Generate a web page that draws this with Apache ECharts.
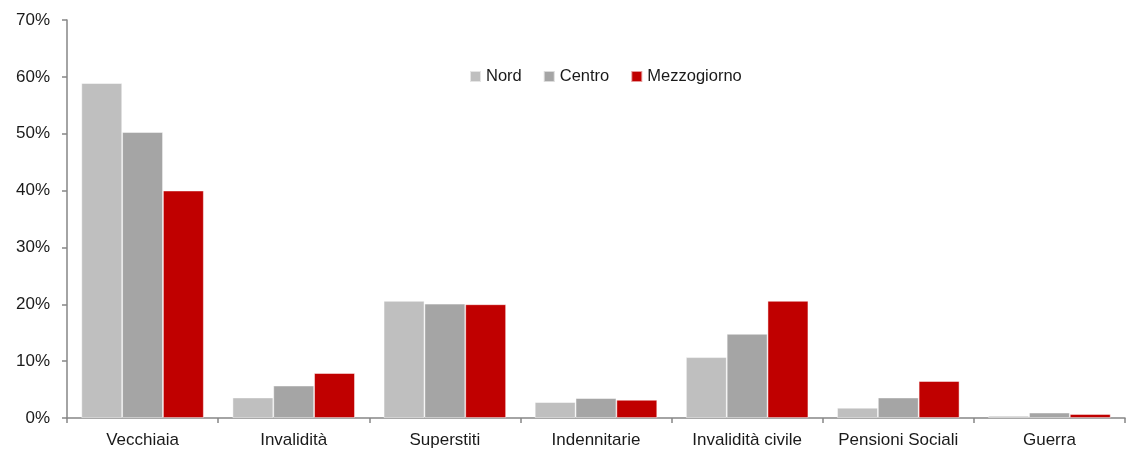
<!DOCTYPE html>
<html><head><meta charset="utf-8">
<script src="https://cdn.jsdelivr.net/npm/echarts@6/dist/echarts.min.js"></script>
<style>html,body{margin:0;padding:0;background:#fff;}#c{width:1136px;height:449px;}</style>
</head><body><div id="c"></div>
<script>
const categories = ['Vecchiaia','Invalidità','Superstiti','Indennitarie','Invalidità civile','Pensioni Sociali','Guerra'];
const nord = [58.9, 3.6, 20.6, 2.8, 10.7, 1.8, 0.4];
const centro = [50.3, 5.7, 20.1, 3.5, 14.8, 3.6, 0.95];
const mezzogiorno = [40.0, 7.9, 20.0, 3.2, 20.6, 6.5, 0.7];
const yTicks = {min: 0, max: 70, interval: 10};

const font = 'Liberation Sans, Arial, sans-serif';
const axisColor = '#868686';
const chart = echarts.init(document.getElementById('c'));
function bar(name, data, color){
  return {name, type:'bar', data, barGap:'0%', barCategoryGap:'19%',
    itemStyle:{color, borderColor:'rgba(255,255,255,0.6)', borderWidth:0.8}};
}
chart.setOption({
  animation:false,
  textStyle:{fontFamily:font},
  grid:{left:67, right:11, top:20, bottom:30, containLabel:false},
  legend:{top:63, left:464, itemWidth:11, itemHeight:11, itemGap:21, itemTextGap:2, icon:'rect',
    textStyle:{fontFamily:font, fontSize:16.5, color:'#1a1a1a'},
    data:['Nord','Centro','Mezzogiorno']},
  xAxis:{type:'category', data:categories,
    axisLine:{lineStyle:{color:axisColor, width:1.5}},
    axisTick:{show:true, length:5, lineStyle:{color:axisColor, width:1.5}},
    axisLabel:{fontFamily:font, fontSize:17, color:'#1a1a1a', margin:14, interval:0}},
  yAxis:{type:'value', min:yTicks.min, max:yTicks.max, interval:yTicks.interval,
    splitLine:{show:false},
    axisLine:{show:true, lineStyle:{color:axisColor, width:1.5}},
    axisTick:{show:true, length:5, lineStyle:{color:axisColor, width:1.5}},
    axisLabel:{fontFamily:font, fontSize:17, color:'#1a1a1a', margin:17, formatter:'{value}%'}},
  series:[bar('Nord', nord, '#bfbfbf'), bar('Centro', centro, '#a5a5a5'), bar('Mezzogiorno', mezzogiorno, '#c00000')]
});
</script></body></html>
